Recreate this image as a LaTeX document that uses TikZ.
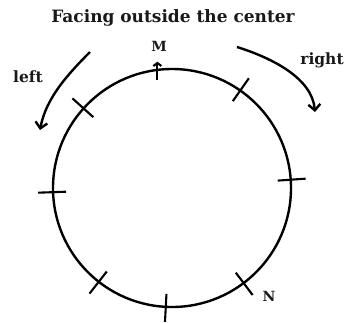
\documentclass[tikz,border=0pt]{standalone}
\usepackage{fontspec}
\setmainfont{DejaVu Serif}
\usetikzlibrary{arrows.meta}
\begin{document}
\begin{tikzpicture}[x=1pt,y=-1pt,line width=2.4pt,
  every node/.style={font=\bfseries\fontsize{14}{16}\selectfont,text=black!90},
  tick/.style={line width=2.1pt},
  turn/.style={-{Straight Barb[length=6pt,width=12pt]}}]
\useasboundingbox (0,0) rectangle (347,322);
\node[font=\bfseries\fontsize{17}{20}\selectfont] (title) at (173,18) {Facing outside the center};
\node[draw,circle,minimum size=238pt,inner sep=0pt] (ring) at (172,188) {};
% seats round the table, M on top
\foreach \a in {55,4,-53,-93,-128,182,138} \draw[tick] ([shift={(\a:106pt)}]ring.center) -- ([shift={(\a:134pt)}]ring.center);
\draw[tick,-{Straight Barb[length=3pt,width=8pt]}] ([yshift=-11pt]ring.97) -- ([yshift=7pt]ring.97);
\node (m) at (159,46) {M};
\node (n) at (269,296) {N};
% turning directions
\coordinate (ls) at (90,52);
\coordinate (le) at (40,130);
\coordinate (rs) at (237,47);
\coordinate (re) at (315,112);
\draw[turn] (ls) .. controls (68,74) and (46,98) .. (le);
\draw[turn] (rs) .. controls (272,58) and (312,78) .. (re);
\node[font=\bfseries\fontsize{15.5}{18}\selectfont] (left) at (28,77) {left};
\node[font=\bfseries\fontsize{15.5}{18}\selectfont] (right) at (322,60) {right};
\end{tikzpicture}
\end{document}
